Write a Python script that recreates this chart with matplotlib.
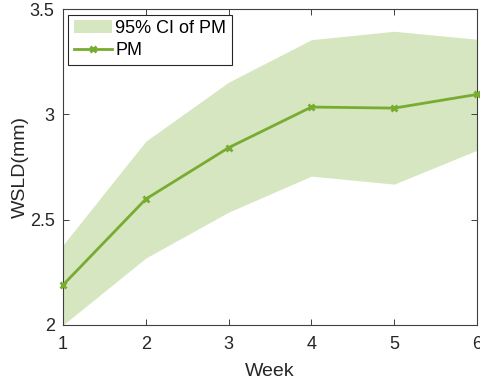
import matplotlib
matplotlib.use("Agg")
import matplotlib.pyplot as plt

weeks = [1, 2, 3, 4, 5, 6]
pm = [2.19, 2.598, 2.842, 3.035, 3.030, 3.095]
ci_upper = [2.38, 2.873, 3.153, 3.355, 3.395, 3.357]
ci_lower = [2.0, 2.318, 2.536, 2.707, 2.669, 2.83]
xticks = [1, 2, 3, 4, 5, 6]
yticks = [2, 2.5, 3, 3.5]
ytick_labels = ["2", "2.5", "3", "3.5"]

plt.rcParams['font.family'] = ['Liberation Sans', 'DejaVu Sans']
green = (0.466, 0.674, 0.188)
fill_c = (0.84, 0.902, 0.756)
axc = '#404040'

fig = plt.figure(figsize=(4.81, 3.81), dpi=100)
ax = fig.add_axes([0.131, 0.147, 0.8607, 0.829])
ax.fill_between(weeks, ci_lower, ci_upper, color=fill_c, linewidth=0, label='95% CI of PM')
ax.plot(weeks, pm, color=green, linewidth=2, marker='x', markersize=5, markeredgewidth=2, label='PM', clip_on=False, zorder=3)
ax.set_xlim(1, 6)
ax.set_ylim(2, 3.5)
ax.set_xticks(xticks)
ax.set_yticks(yticks)
ax.set_yticklabels(ytick_labels)
ax.tick_params(direction='in', top=True, right=True, length=4, width=0.7, color=axc, labelsize=13, labelcolor='#262626')
ax.tick_params(axis='x', pad=8)
ax.tick_params(axis='y', pad=6)
for s in ax.spines.values():
    s.set_color(axc)
    s.set_linewidth(0.8)
ax.set_xlabel('Week', fontsize=14, color='#262626', labelpad=7)
ax.set_ylabel('WSLD(mm)', fontsize=14, color='#262626', labelpad=1)
leg = ax.legend(loc='upper left', fontsize=13, frameon=True, fancybox=False, edgecolor='#262626', framealpha=1, borderaxespad=0.3, handlelength=2.1, handletextpad=0.2, borderpad=0.3, labelspacing=0.3)
leg.get_frame().set_linewidth(0.8)
fig.savefig('out.png', dpi=100)
